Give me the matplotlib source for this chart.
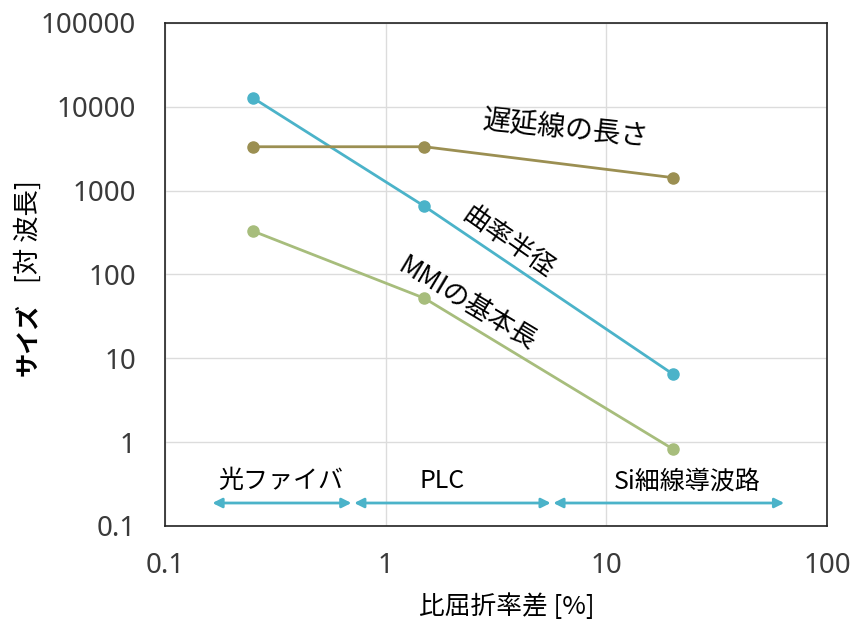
import matplotlib
matplotlib.use("Agg")
import matplotlib.pyplot as plt

plt.rcParams['font.family'] = ['Noto Sans', 'Noto Sans CJK JP', 'DejaVu Sans']
jp = ['Noto Sans CJK JP', 'DejaVu Sans']

# 比屈折率差 [%]
delta = [0.25, 1.5, 20]
# サイズ [対波長]
bend_radius = [12800, 650, 6.5]
delay_len = [3340, 3340, 1430]
mmi_len = [330, 52, 0.83]

# 比屈折率差の範囲 (光ファイバ / PLC / Si細線導波路)
range_names = ['光ファイバ', 'PLC', 'Si細線導波路']
range_lo = [0.164, 0.72, 5.75]
range_hi = [0.70, 5.6, 64]
range_label_x = [0.336, 1.8, 23.3]
range_y = 0.188
range_label_y = 0.34

blue = '#4bb3c9'
olive = '#9b8f52'
green = '#a7bd7c'

fig = plt.figure(figsize=(8.53, 6.21), dpi=100)
ax = fig.add_axes([0.1934, 0.153, 0.7761, 0.810])

ax.plot(delta, bend_radius, '-o', color=blue, lw=2, ms=8)
ax.plot(delta, delay_len, '-o', color=olive, lw=2, ms=8)
ax.plot(delta, mmi_len, '-o', color=green, lw=2, ms=8)

ax.set_xscale('log')
ax.set_yscale('log')
ax.set_xlim(0.1, 100)
ax.set_ylim(0.1, 100000)
ax.set_xticks([0.1, 1, 10, 100])
ax.set_xticklabels(['0.1', '1', '10', '100'])
ax.set_yticks([0.1, 1, 10, 100, 1000, 10000, 100000])
ax.set_yticklabels(['0.1', '1', '10', '100', '1000', '10000', '100000'])
ax.minorticks_off()
ax.tick_params(length=0, labelsize=20, labelcolor='#3a3a3a')
ax.tick_params(axis='y', pad=21)
ax.tick_params(axis='x', pad=19)
ax.grid(True, color='#dcdcdc', lw=1)
ax.set_axisbelow(True)
for s in ax.spines.values():
    s.set_color('#222222')
    s.set_linewidth(1.2)

# 横軸ラベル
ax.text(0.517, -0.161, '比屈折率差 [%]', transform=ax.transAxes,
        ha='center', va='center', fontsize=18.5, family=jp)

# 縦軸ラベル: サイズ (太字) + [対 波長]
ax.text(-0.207, 0.443, 'サイズ', transform=ax.transAxes, rotation=90,
        rotation_mode='anchor', ha='right', va='center', fontsize=17.5,
        fontweight='bold', family=jp)
ax.text(-0.207, 0.483, '[対 波長]', transform=ax.transAxes, rotation=90,
        rotation_mode='anchor', ha='left', va='center', fontsize=19, family=jp)

# 曲線ラベル
ax.text(6.5, 5500, '遅延線の長さ', fontsize=20, rotation=-6, ha='center', va='center', family=jp)
ax.text(3.6, 240, '曲率半径', fontsize=19, rotation=-35, ha='center', va='center', family=jp)
ax.text(2.35, 44, 'MMIの基本長', fontsize=19, rotation=-31, ha='center', va='center', family=jp)

# 範囲の矢印
for name, lo, hi, xm in zip(range_names, range_lo, range_hi, range_label_x):
    ax.annotate('', xy=(lo, range_y), xytext=(hi, range_y),
                arrowprops=dict(arrowstyle='<|-|>', color=blue, lw=2,
                                mutation_scale=14, shrinkA=0, shrinkB=0))
    ax.text(xm, range_label_y, name, fontsize=18, ha='center', va='center', family=jp)

fig.savefig('out.png', dpi=100)
